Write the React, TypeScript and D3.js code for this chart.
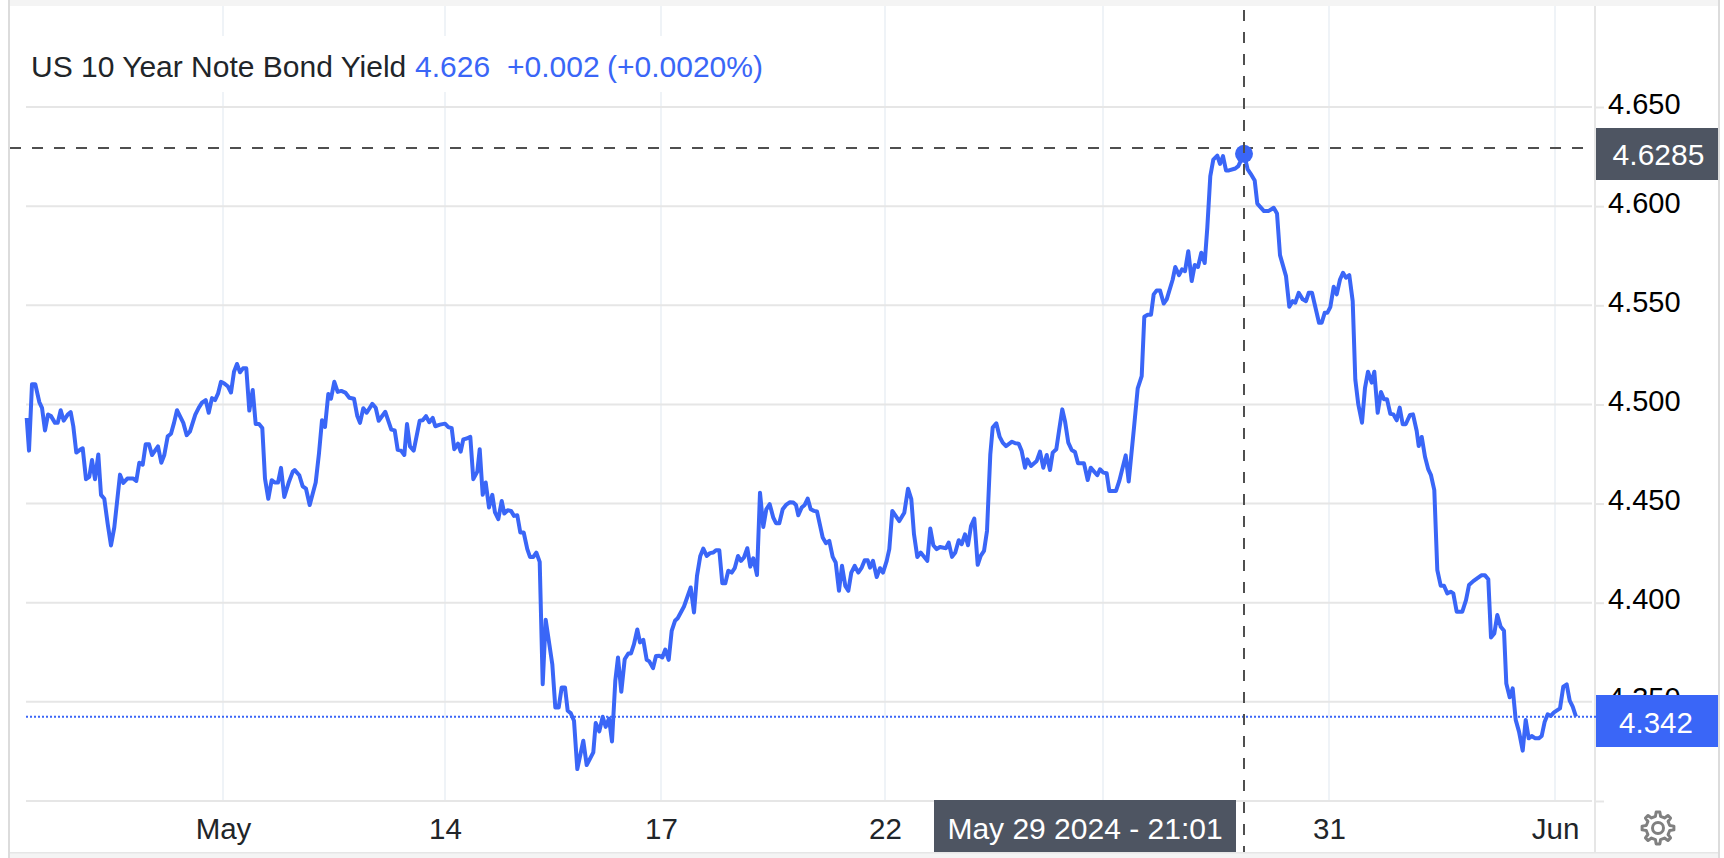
import { useEffect, useRef } from 'react';
import * as d3 from 'd3';

const WIDTH = 1724;
const HEIGHT = 858;

const BLUE = '#3a66f7';
const SLATE = '#4e5562';
const FONT = '"Liberation Sans", Arial, sans-serif';

// [axis position, yield], the axis is compressed trading time
const earlyMay: [number, number][] = [
  [0.7, 4.4932], [3, 4.4767], [6, 4.5102], [9.3, 4.5102], [13.3, 4.5012], [16, 4.4983], [19, 4.4869], [22, 4.4949],
  [25, 4.4941], [29, 4.4907], [31.7, 4.4907], [34.7, 4.4971], [37.7, 4.4918], [41.7, 4.4949], [44.7, 4.4961],
  [47.3, 4.489], [50.3, 4.4757], [54, 4.4771], [56.7, 4.4779], [60, 4.4623], [63.3, 4.4635], [66, 4.472], [69, 4.4623],
  [72.3, 4.4748], [75, 4.4544], [78.3, 4.4524], [81.7, 4.4397], [85, 4.4289], [88.3, 4.438], [94, 4.4646], [97.3, 4.4604],
  [101.3, 4.4626], [107.3, 4.4626], [110.3, 4.4614], [113.3, 4.4706], [116.7, 4.4696], [119.7, 4.4799], [123, 4.4799],
  [126, 4.4745], [132, 4.4788], [135.3, 4.4706], [138.3, 4.4745], [141.7, 4.4839], [145, 4.4852], [148, 4.4907],
  [151, 4.4971], [157.3, 4.4907], [160.7, 4.4845], [164, 4.4864], [169.3, 4.4949], [172.7, 4.4983], [176, 4.5009],
  [179.7, 4.5022], [182.7, 4.4958], [186, 4.5032], [189, 4.5022], [192, 4.5054], [195, 4.5114], [198, 4.5107],
  [202, 4.509], [205, 4.506], [208, 4.5165], [211, 4.5204], [214, 4.5162], [217, 4.5182], [220.3, 4.5182],
];

const secondWeekMay: [number, number][] = [
  [223.3, 4.4969], [226.7, 4.5073], [229.7, 4.4901], [233, 4.4901], [236.3, 4.4881], [239, 4.4626], [242.3, 4.4524],
  [245.7, 4.4618], [248.7, 4.4606], [252, 4.4606], [255, 4.468], [258.3, 4.4533], [262.7, 4.4606], [266.7, 4.466],
  [268.7, 4.4669], [273.3, 4.4643], [276.7, 4.4587], [280, 4.4575], [283.7, 4.4493], [289.7, 4.4606], [293, 4.4754],
  [296, 4.492], [299, 4.4886], [302.3, 4.5053], [305, 4.5029], [308.3, 4.5114], [311.7, 4.5063], [315.3, 4.5068],
  [319.3, 4.506], [323.3, 4.5034], [328, 4.5029], [331.3, 4.4941], [334, 4.4907], [337.3, 4.4981], [340.7, 4.4958],
  [346.3, 4.5003], [349.7, 4.4983], [352.7, 4.4918], [359.3, 4.4963], [365.3, 4.4873], [368.7, 4.4869], [371.7, 4.4771],
  [375, 4.4767], [378.3, 4.4745], [381, 4.4901], [384, 4.4788], [387.7, 4.4767], [393.7, 4.4918], [396.7, 4.492],
  [400, 4.4941], [403.3, 4.491], [406.7, 4.4932], [409.3, 4.489], [414, 4.4898],
  [419, 4.4903], [422.3, 4.4886], [425.7, 4.488], [428.3, 4.4774], [432, 4.4802], [434.7, 4.4762], [437.3, 4.4824],
  [440.7, 4.4828], [444.3, 4.4836], [447.3, 4.4623], [451.3, 4.4661], [453.7, 4.4774], [456.7, 4.4544], [459.7, 4.4606],
  [463, 4.448], [466.3, 4.4544], [469, 4.4455], [472.3, 4.4421], [475.7, 4.4513], [478.3, 4.445], [481.7, 4.4466],
  [485, 4.4463], [488, 4.4438], [491.3, 4.4441], [494.3, 4.4354], [497.7, 4.4354], [501.3, 4.427], [504, 4.4231],
  [507.3, 4.4231], [510.3, 4.4253], [513.7, 4.4206],
];

const midMaySlump: [number, number][] = [
  [516.7, 4.3589], [519.7, 4.3914], [526.3, 4.369], [529.3, 4.3472], [532.7, 4.3472], [535.7, 4.3573], [539, 4.3573],
  [541.7, 4.3455], [544.7, 4.3443], [548, 4.3405], [551.3, 4.3161], [557.3, 4.3304], [560.7, 4.3181], [567.3, 4.3245],
  [569.7, 4.3393], [573.3, 4.3351], [576.7, 4.3425], [579.7, 4.3374], [583, 4.3416], [586, 4.33], [589.3, 4.3606],
  [592, 4.3724], [595.3, 4.3551], [598.7, 4.3715], [602.3, 4.3744], [605, 4.3744], [608, 4.3791], [611.3, 4.3865],
  [614, 4.38], [617.3, 4.3813], [620.7, 4.3712], [623.3, 4.3704], [627, 4.367], [630, 4.3731], [633.3, 4.3732],
  [636.3, 4.3724], [639.3, 4.3764], [642.7, 4.3712], [645.7, 4.3858], [649, 4.3909], [651.7, 4.3922], [658, 4.3981],
  [664.7, 4.4077], [668, 4.3951], [671, 4.4135], [674.3, 4.4236], [677.3, 4.4273], [680.7, 4.4236], [684, 4.425],
  [687.3, 4.4253], [690, 4.4265], [693.3, 4.4265], [696.3, 4.4098], [699.3, 4.4098], [702.3, 4.4161], [705.7, 4.4152],
  [708.7, 4.4174], [712, 4.4236], [715, 4.4211], [718, 4.4228], [721.3, 4.4275], [724.3, 4.4182], [727.3, 4.4224],
  [731, 4.414], [734, 4.4555], [737.3, 4.4382], [740.3, 4.4471], [743.7, 4.4497], [747.3, 4.4429], [750, 4.4401],
  [753.3, 4.4401], [756.7, 4.4471], [760, 4.4493], [764, 4.4507], [767.3, 4.4505], [770, 4.4493], [772.3, 4.4441],
  [775.7, 4.448], [778.7, 4.4493], [781.7, 4.4525], [784.7, 4.4471], [788, 4.4463], [791, 4.446], [796.7, 4.4329],
  [800, 4.43], [803.3, 4.4312], [806.7, 4.4231], [809.7, 4.4203], [813, 4.406], [816, 4.4186], [819.3, 4.4085],
  [822.3, 4.406], [825.3, 4.4152], [828.7, 4.4186], [832.3, 4.4152], [835.7, 4.4177], [838.7, 4.4214], [841.7, 4.4214],
  [844, 4.4177], [847, 4.4211], [850.7, 4.413], [854, 4.4174], [857, 4.4152], [860.7, 4.4211], [863.3, 4.427],
  [866.3, 4.4463], [873.3, 4.4412], [878.3, 4.4454], [882, 4.4575], [885.3, 4.4522], [888, 4.4345], [891.3, 4.4231],
  [894.7, 4.4253], [901.3, 4.4211], [904.3, 4.4374], [907.3, 4.429], [910.7, 4.427], [914, 4.4281], [920, 4.4275],
  [922.7, 4.4303], [926, 4.4231], [929.3, 4.4253], [932.7, 4.4315], [935.7, 4.4295], [939, 4.4345], [942, 4.429],
  [945, 4.4387], [948.3, 4.4424], [951.7, 4.4191], [954.7, 4.4236], [958, 4.4261], [961, 4.4362],
];

const lateMayRally: [number, number][] = [
  [964.3, 4.4748], [966.7, 4.4883], [970.3, 4.4905], [973.7, 4.4836], [976.7, 4.4807], [980, 4.479], [986, 4.4812],
  [989.3, 4.4804], [992.7, 4.4802], [995.7, 4.4765], [999, 4.4681], [1001.3, 4.4723], [1005, 4.469], [1010.7, 4.4715],
  [1014, 4.4762], [1017.3, 4.4681], [1020.7, 4.4745], [1024, 4.4669], [1026.7, 4.4757], [1030.3, 4.4774], [1033, 4.4866],
  [1036.3, 4.4975], [1039, 4.4916], [1042.3, 4.4807], [1045.7, 4.477], [1049, 4.476], [1052, 4.4703], [1058, 4.4703],
  [1061.7, 4.4619], [1064.7, 4.4681], [1071.3, 4.4643], [1074, 4.4673], [1077.3, 4.4656], [1080.7, 4.4653],
  [1083.3, 4.4564], [1090, 4.4564], [1093.3, 4.4614], [1099.7, 4.4743], [1102.7, 4.4611], [1108, 4.4883], [1111.7, 4.5081],
  [1115.7, 4.5143], [1118.3, 4.5442], [1121.7, 4.5452], [1125, 4.5452], [1127.7, 4.5555], [1130.7, 4.5575], [1134, 4.5575],
  [1137.7, 4.5509], [1140.7, 4.553], [1146.7, 4.563], [1149.3, 4.5693], [1153, 4.5652], [1156, 4.5681], [1159, 4.5672],
  [1162.3, 4.5773], [1165.7, 4.5622], [1168.7, 4.5703], [1172, 4.5693], [1175.3, 4.5765], [1178.7, 4.5713], [1181.3, 4.5891],
  [1184.3, 4.6151], [1187.3, 4.6235], [1191.3, 4.6255], [1194, 4.6213], [1197, 4.6252], [1200, 4.618], [1203, 4.618],
  [1209.3, 4.619], [1212.3, 4.6202], [1218, 4.6264],
];

const selloff: [number, number][] = [
  [1221.7, 4.6185], [1224.7, 4.6163], [1228.7, 4.6129], [1231.3, 4.6013], [1238, 4.5975], [1242.3, 4.5975], [1247.7, 4.5992],
  [1251, 4.5963], [1254, 4.5753], [1260, 4.5647], [1263.3, 4.5493], [1266.7, 4.5521], [1269.3, 4.5513], [1272.7, 4.5563],
  [1276.7, 4.553], [1280, 4.5521], [1282.7, 4.5563], [1286, 4.5563], [1293, 4.5412], [1295.7, 4.5412], [1298.7, 4.5462],
  [1301.3, 4.5462], [1304.3, 4.5491], [1307.7, 4.5593], [1310.7, 4.5555], [1314, 4.563], [1317, 4.5664], [1320, 4.5639],
  [1323.3, 4.5652], [1326.7, 4.5521], [1329.3, 4.5126], [1332.3, 4.5], [1336, 4.4908], [1339, 4.5084], [1342, 4.5165],
  [1345.7, 4.511], [1348.3, 4.5165], [1351.7, 4.4958], [1355, 4.5063], [1358, 4.5026], [1361, 4.5026], [1364.3, 4.4953],
  [1367.3, 4.495], [1370.7, 4.492], [1373.7, 4.4984], [1376.7, 4.49], [1379.7, 4.49], [1384, 4.4947], [1387, 4.495],
  [1390.7, 4.4866], [1392.7, 4.479], [1395.7, 4.4836], [1399, 4.4736], [1402.3, 4.4672], [1405, 4.4643], [1408.3, 4.4568],
  [1411.3, 4.4165], [1414.7, 4.4086], [1418, 4.4086], [1421.3, 4.4047], [1424.7, 4.4055], [1427.3, 4.4047], [1430.7, 4.3955],
  [1436.3, 4.3955], [1440, 4.4013], [1443, 4.4089], [1447.3, 4.4109], [1455.3, 4.4138], [1459, 4.4138], [1462.3, 4.4118],
  [1465, 4.3825], [1468.3, 4.3845], [1471.3, 4.3938], [1474.7, 4.3879], [1478, 4.3859], [1480.3, 4.3593], [1483.7, 4.3523],
  [1486.7, 4.3568], [1489.7, 4.3409], [1493, 4.335], [1496.7, 4.3254], [1499.7, 4.3409], [1502.7, 4.3316], [1505.7, 4.3328],
  [1509.3, 4.3316], [1512.7, 4.3316], [1515.7, 4.3328], [1518.7, 4.34], [1521.7, 4.3437], [1524.7, 4.3429], [1528, 4.3447],
  [1534, 4.3467], [1537.3, 4.3577], [1540.7, 4.3588], [1543.7, 4.3506], [1546.7, 4.3476], [1550, 4.3425],
];

const yieldSamples = [...earlyMay, ...secondWeekMay, ...midMaySlump, ...lateMayRally, ...selloff];

const yTicks = [4.65, 4.6, 4.55, 4.5, 4.45, 4.4, 4.35];
const xTickPositions = [197, 419, 635, 859, 1077, 1303, 1529];
const xTickLabels = ['May', '14', '17', '22', '', '31', 'Jun'];

const titleName = 'US 10 Year Note Bond Yield';
const titleLast = '4.626';
const titleChange = '+0.002';
const titlePercent = '(+0.0020%)';

const lastYield = 4.342;
const hoverYield = 4.6293;
const hoverPosition = 1218;
const hoverPoint: [number, number] = [1218, 4.6264];
const hoverPriceLabel = '4.6285';
const hoverDateLabel = 'May 29 2024 - 21:01';

// gear outline for the settings button
function gearPath(cx: number, cy: number, outer: number, inner: number, teeth: number) {
  const pts: [number, number][] = [];
  const step = (Math.PI * 2) / teeth;
  for (let i = 0; i < teeth; i++) {
    const a = i * step - Math.PI / 2;
    const w = step * 0.2;
    pts.push([a - w * 1.35, inner], [a - w * 0.75, outer], [a + w * 0.75, outer], [a + w * 1.35, inner]);
  }
  const line = d3.line().curve(d3.curveLinearClosed);
  return line(pts.map(([a, r]) => [cx + r * Math.cos(a), cy + r * Math.sin(a)]));
}

export default function App() {
  const svgRef = useRef<SVGSVGElement>(null);

  useEffect(() => {
    const svg = d3.select(svgRef.current);
    svg.selectAll('*').remove();

    const x = d3.scaleLinear().domain([0, 1552]).range([26, 1578]);
    const y = d3.scaleLinear().domain([4.3, 4.65]).range([801, 107]);

    // frame
    svg.append('rect').attr('width', WIDTH).attr('height', HEIGHT).attr('fill', '#ffffff');
    svg.append('rect').attr('x', 10).attr('width', 1708).attr('height', 6).attr('fill', '#f4f4f4');
    svg.append('rect').attr('x', 10).attr('y', 852).attr('width', 1708).attr('height', 6).attr('fill', '#f4f4f4');
    svg.append('rect').attr('x', 10).attr('y', 852).attr('width', 1708).attr('height', 1.5).attr('fill', '#e6e6e6');
    svg.append('rect').attr('x', 8).attr('y', 0).attr('width', 2).attr('height', HEIGHT).attr('fill', '#dcdcdc');
    svg.append('rect').attr('x', 1718).attr('y', 0).attr('width', 2).attr('height', HEIGHT).attr('fill', '#dcdcdc');

    // vertical grid
    svg.append('g')
      .selectAll('line')
      .data(xTickPositions)
      .join('line')
      .attr('x1', d => x(d))
      .attr('x2', d => x(d))
      .attr('y1', 6)
      .attr('y2', 801)
      .attr('stroke', '#eff3f7')
      .attr('stroke-width', 2);

    // horizontal grid, the 4.300 line has no label
    svg.append('g')
      .selectAll('line')
      .data([...yTicks, 4.3])
      .join('line')
      .attr('x1', 26)
      .attr('x2', 1592)
      .attr('y1', d => y(d))
      .attr('y2', d => y(d))
      .attr('stroke', '#e6e6e6')
      .attr('stroke-width', 2);

    // white plate behind the title
    svg.append('rect').attr('x', 10).attr('y', 36).attr('width', 764).attr('height', 56).attr('fill', '#ffffff');

    const title = svg.append('text')
      .attr('x', 31)
      .attr('y', 77)
      .attr('font-family', FONT)
      .attr('font-size', 30);
    title.append('tspan').attr('fill', '#212529').text(titleName);
    title.append('tspan').attr('x', 415).attr('fill', BLUE).text(titleLast);
    title.append('tspan').attr('x', 507).attr('fill', BLUE).text(titleChange);
    title.append('tspan').attr('x', 607).attr('fill', BLUE).text(titlePercent);

    // axis separator
    svg.append('rect').attr('x', 1594).attr('y', 6).attr('width', 2).attr('height', 846).attr('fill', '#e6e6e6');

    // y axis
    const yAxis = svg.append('g')
      .attr('transform', 'translate(1596,0)')
      .call(d3.axisRight(y).tickValues([...yTicks, 4.3]).tickSize(8).tickPadding(4).tickFormat(d => (+d === 4.3 ? '' : d3.format('.3f')(+d))));
    yAxis.select('.domain').remove();
    yAxis.selectAll('line').attr('stroke', '#e6e6e6').attr('stroke-width', 2);
    yAxis.selectAll('text')
      .attr('dy', 0)
      .attr('y', 6)
      .attr('x', 12)
      .attr('font-family', FONT)
      .attr('font-size', 29)
      .attr('fill', '#000000');

    // dotted last value line
    svg.append('line')
      .attr('x1', 26)
      .attr('x2', 1596)
      .attr('y1', y(lastYield) - 1)
      .attr('y2', y(lastYield) - 1)
      .attr('stroke', BLUE)
      .attr('stroke-width', 2)
      .attr('stroke-dasharray', '2 2');

    // series
    svg.append('path')
      .datum(yieldSamples)
      .attr('fill', 'none')
      .attr('stroke', BLUE)
      .attr('stroke-width', 4)
      .attr('stroke-linejoin', 'round')
      .attr('d', d3.line<[number, number]>().x(d => x(d[0])).y(d => y(d[1])));

    // crosshair
    const crossStyle = (sel: any) => sel.attr('stroke', '#4f4f4f').attr('stroke-width', 2).attr('stroke-dasharray', '11 11');
    svg.append('line').attr('x1', 10).attr('x2', 1588).attr('y1', y(hoverYield)).attr('y2', y(hoverYield)).call(crossStyle);
    svg.append('circle')
      .attr('cx', x(hoverPoint[0]))
      .attr('cy', y(hoverPoint[1]))
      .attr('r', 9)
      .attr('fill', BLUE);
    svg.append('line')
      .attr('x1', x(hoverPosition))
      .attr('x2', x(hoverPosition))
      .attr('y1', 6)
      .attr('y2', 852)
      .call(crossStyle)
      .attr('stroke-dashoffset', 18);

    // x axis
    const xAxis = svg.append('g')
      .attr('transform', 'translate(0,801)')
      .call(d3.axisBottom(x).tickValues(xTickPositions).tickSize(0).tickFormat((_, i) => xTickLabels[i]));
    xAxis.select('.domain').remove();
    xAxis.selectAll('text')
      .attr('dy', 0)
      .attr('y', 38)
      .attr('font-family', FONT)
      .attr('font-size', 29.5)
      .attr('fill', '#212529');

    // value tags
    svg.append('rect').attr('x', 1596).attr('y', 128).attr('width', 122).attr('height', 52).attr('fill', SLATE);
    svg.append('text')
      .attr('x', 1658.5)
      .attr('y', 165)
      .attr('text-anchor', 'middle')
      .attr('font-family', FONT)
      .attr('font-size', 30)
      .attr('fill', '#ffffff')
      .text(hoverPriceLabel);

    svg.append('rect').attr('x', 1596).attr('y', 695).attr('width', 122).attr('height', 52).attr('fill', BLUE);
    svg.append('text')
      .attr('x', 1656)
      .attr('y', 733)
      .attr('text-anchor', 'middle')
      .attr('font-family', FONT)
      .attr('font-size', 29.5)
      .attr('fill', '#ffffff')
      .text(d3.format('.3f')(lastYield));

    svg.append('rect').attr('x', 934).attr('y', 800).attr('width', 302).attr('height', 52).attr('fill', SLATE);
    svg.append('text')
      .attr('x', 1085)
      .attr('y', 839)
      .attr('text-anchor', 'middle')
      .attr('font-family', FONT)
      .attr('font-size', 30)
      .attr('fill', '#ffffff')
      .text(hoverDateLabel);

    // settings gear
    svg.append('path')
      .attr('d', gearPath(1658, 828, 16, 12, 8))
      .attr('fill', 'none')
      .attr('stroke', '#808080')
      .attr('stroke-width', 3)
      .attr('stroke-linejoin', 'round');
    svg.append('circle').attr('cx', 1658).attr('cy', 828).attr('r', 5.5).attr('fill', 'none').attr('stroke', '#808080').attr('stroke-width', 3);
  }, []);

  return (
    <svg
      ref={svgRef}
      width={WIDTH}
      height={HEIGHT}
      style={{ position: 'absolute', left: 0, top: 0, display: 'block' }}
    />
  );
}
